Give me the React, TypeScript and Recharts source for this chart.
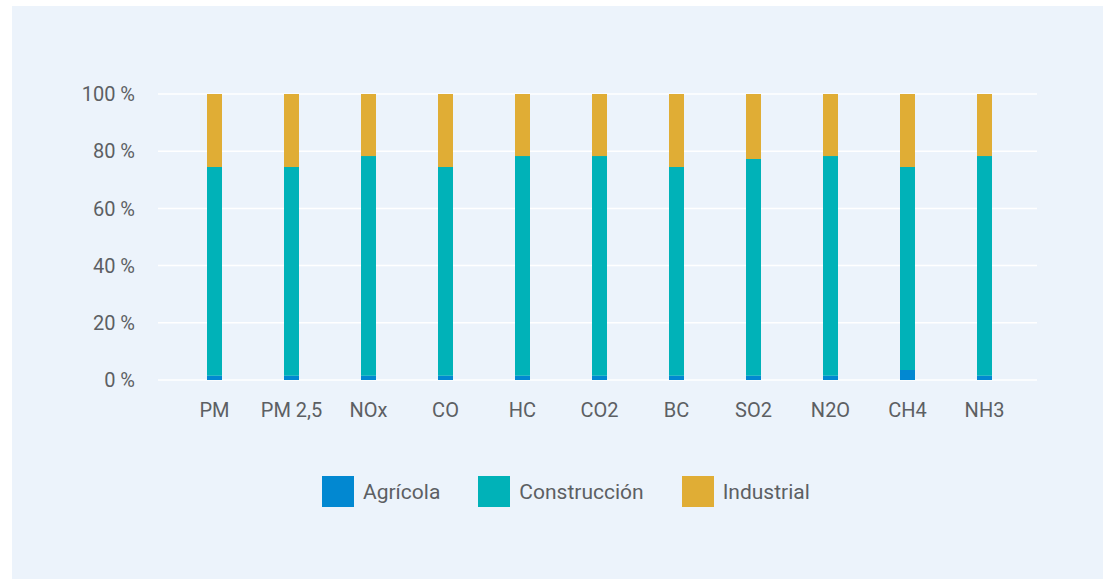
import { BarChart, Bar, XAxis, YAxis, CartesianGrid } from "recharts";

const contaminantes = ["PM", "PM 2,5", "NOx", "CO", "HC", "CO2", "BC", "SO2", "N2O", "CH4", "NH3"];
const agricola = [1.5, 1.5, 1.5, 1.5, 1.5, 1.5, 1.5, 1.5, 1.5, 3.5, 1.5];
const construccion = [73, 73, 76.8, 73, 76.8, 76.8, 73, 75.8, 76.8, 71, 76.8];
const industrial = [25.5, 25.5, 21.7, 25.5, 21.7, 21.7, 25.5, 22.7, 21.7, 25.5, 21.7];
const yTicks = [0, 20, 40, 60, 80, 100];

const series = [
  { key: "agricola", label: "Agrícola", color: "#0288D1" },
  { key: "construccion", label: "Construcción", color: "#00B2B8" },
  { key: "industrial", label: "Industrial", color: "#E0AD35" },
];

const data = contaminantes.map((name, i) => ({
  name,
  agricola: agricola[i],
  construccion: construccion[i],
  industrial: industrial[i],
}));

const font = "Roboto, 'Noto Sans', sans-serif";
const textColor = "#5c5f63";

export default function App() {
  return (
    <div
      style={{
        position: "absolute",
        left: 0,
        top: 0,
        width: 1103,
        height: 579,
        background: "#ffffff",
        overflow: "hidden",
        fontFamily: font,
      }}
    >
      <div
        style={{
          position: "absolute",
          left: 12,
          top: 6,
          width: 1100,
          height: 580,
          background: "#ECF3FB",
        }}
      />
      <div style={{ position: "absolute", left: 0, top: 0 }}>
        <BarChart
          width={1103}
          height={579}
          data={data}
          margin={{ top: 94, right: 66, left: 78, bottom: 169 }}
        >
          <CartesianGrid vertical={false} stroke="#ffffff" strokeWidth={1.5} />
          <XAxis
            dataKey="name"
            axisLine={false}
            tickLine={false}
            tickMargin={17}
            height={30}
            padding={{ left: 18, right: 14 }}
            tick={{ fill: textColor, fontSize: 20, fontFamily: font }}
            interval={0}
          />
          <YAxis
            width={80}
            domain={[0, 100]}
            ticks={yTicks}
            axisLine={false}
            tickLine={false}
            tickMargin={17}
            tickFormatter={(v) => `${v} %`}
            tick={{ fill: textColor, fontSize: 20, fontFamily: font }}
          />
          {series.map((s) => (
            <Bar
              key={s.key}
              dataKey={s.key}
              stackId="a"
              fill={s.color}
              barSize={15}
              isAnimationActive={false}
            />
          ))}
        </BarChart>
      </div>
      <div
        style={{
          position: "absolute",
          left: 322,
          top: 476,
          display: "flex",
          alignItems: "center",
          gap: 38,
        }}
      >
        {series.map((s) => (
          <div key={s.key} style={{ display: "flex", alignItems: "center", gap: 9 }}>
            <div style={{ width: 32, height: 31, background: s.color }} />
            <span style={{ fontSize: 21, color: textColor }}>{s.label}</span>
          </div>
        ))}
      </div>
    </div>
  );
}
